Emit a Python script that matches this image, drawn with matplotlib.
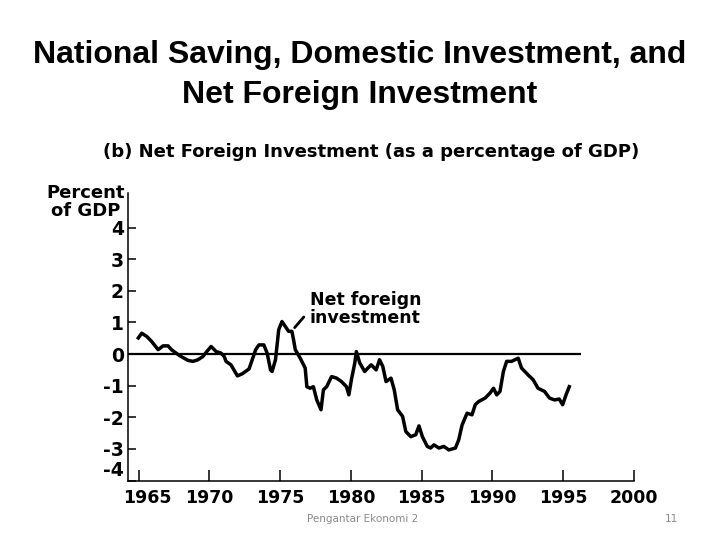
import matplotlib
matplotlib.use("Agg")
import matplotlib.pyplot as plt
import matplotlib.transforms as mtransforms

plt.rcParams['font.family'] = 'DejaVu Sans'

# net foreign investment, percent of GDP
years = [1964.97, 1965.21, 1965.56, 1965.91, 1966.37, 1966.72, 1967.07, 1967.31,
         1967.89, 1968.48, 1968.83, 1969.18, 1969.53, 1969.81, 1970.12, 1970.47,
         1970.82, 1971.05, 1971.17, 1971.52, 1971.98, 1972.33, 1972.80, 1973.27,
         1973.50, 1973.85, 1974.08, 1974.32, 1974.43, 1974.67, 1974.90, 1975.13,
         1975.37, 1975.60, 1975.83, 1975.95, 1976.07, 1976.42, 1976.77, 1976.89,
         1977.12, 1977.35, 1977.59, 1977.89, 1978.06, 1978.29, 1978.64, 1978.99,
         1979.34, 1979.69, 1979.86, 1980.04, 1980.28, 1980.39, 1980.63, 1980.98,
         1981.21, 1981.44, 1981.79, 1982.03, 1982.26, 1982.49, 1982.84, 1983.07,
         1983.31, 1983.66, 1983.89, 1984.24, 1984.59, 1984.82, 1985.06, 1985.41,
         1985.64, 1985.88, 1986.23, 1986.58, 1986.93, 1987.40, 1987.63, 1987.87,
         1988.22, 1988.57, 1988.80, 1989.04, 1989.50, 1989.85, 1990.09, 1990.32,
         1990.55, 1990.79, 1991.02, 1991.37, 1991.60, 1991.84, 1992.07, 1992.54,
         1992.89, 1993.24, 1993.70, 1994.05, 1994.41, 1994.74, 1994.98, 1995.22,
         1995.45]
nfi = [0.51, 0.66, 0.56, 0.40, 0.14, 0.26, 0.26, 0.14,
       -0.05, -0.20, -0.23, -0.18, -0.08, 0.08, 0.24, 0.08,
       0.03, -0.08, -0.23, -0.34, -0.69, -0.62, -0.47, 0.14,
       0.29, 0.29, 0.03, -0.50, -0.55, -0.18, 0.77, 1.03,
       0.87, 0.72, 0.72, 0.45, 0.14, -0.13, -0.44, -1.03,
       -1.08, -1.03, -1.45, -1.76, -1.13, -1.03, -0.71, -0.76,
       -0.87, -1.03, -1.29, -0.81, -0.28, 0.08, -0.28, -0.55,
       -0.44, -0.34, -0.50, -0.18, -0.39, -0.87, -0.76, -1.13,
       -1.76, -1.97, -2.45, -2.61, -2.55, -2.27, -2.61, -2.92,
       -2.97, -2.87, -2.97, -2.92, -3.03, -2.97, -2.71, -2.24,
       -1.87, -1.92, -1.60, -1.50, -1.39, -1.23, -1.08, -1.29,
       -1.18, -0.55, -0.23, -0.23, -0.18, -0.13, -0.44, -0.66,
       -0.81, -1.08, -1.18, -1.39, -1.45, -1.42, -1.60, -1.29,
       -1.03]

x_ticks = [1965, 1970, 1975, 1980, 1985, 1990, 1995, 2000]
y_ticks = [4, 3, 2, 1, 0, -1, -2, -3, -4]

fig = plt.figure(figsize=(7.2, 5.4), dpi=100)
ax = fig.add_axes([0.178, 0.110, 0.702, 0.533])

ax.plot(years, nfi, color='black', lw=2.5, solid_joinstyle='round')
ax.hlines(0, 1964.25, 1996.3, color='black', lw=1.6)

ax.set_xlim(1964.25, 2000)
ax.set_ylim(-4, 5.1)
ax.set_xticks(x_ticks)
ax.set_xticklabels([str(y) for y in x_ticks], fontsize=12.5, fontweight='bold')
ax.set_yticks(y_ticks)
ax.set_yticklabels([str(v) for v in y_ticks], fontsize=13.5, fontweight='bold')
ax.tick_params(axis='x', direction='in', length=8, width=1.1, pad=6)
ax.tick_params(axis='y', direction='in', length=6, width=1.1, pad=3)

# small label nudges seen in the original slide
lab = ax.get_yticklabels()[-1]
lab.set_transform(lab.get_transform() + mtransforms.ScaledTranslation(0, 12 / 100, fig.dpi_scale_trans))
lab = ax.get_xticklabels()[0]
lab.set_transform(lab.get_transform() + mtransforms.ScaledTranslation(9 / 100, 0, fig.dpi_scale_trans))

for s in ['top', 'right']:
    ax.spines[s].set_visible(False)
for s in ['left', 'bottom']:
    ax.spines[s].set_linewidth(1.1)

# label for the line
ax.annotate('', xy=(1975.9, 0.77), xytext=(1976.8, 1.24),
            arrowprops=dict(arrowstyle='-', color='black', lw=2))
ax.text(1977.1, 1.43, 'Net foreign\ninvestment', fontsize=12.5, fontweight='bold',
        ha='left', va='center', linespacing=0.95)

fig.text(0.5, 0.898, 'National Saving, Domestic Investment, and', family='Liberation Sans',
         fontsize=23, fontweight='bold', ha='center', va='center')
fig.text(0.5, 0.824, 'Net Foreign Investment', family='Liberation Sans',
         fontsize=23, fontweight='bold', ha='center', va='center')
fig.text(0.516, 0.718, '(b) Net Foreign Investment (as a percentage of GDP)',
         fontsize=13, fontweight='bold', ha='center', va='center')
fig.text(0.174, 0.626, 'Percent\nof GDP', fontsize=13, fontweight='bold',
         ha='right', va='center', multialignment='center', linespacing=0.95)

fig.text(0.504, 0.038, 'Pengantar Ekonomi 2', fontsize=7.5, color='#8a8a8a',
         ha='center', va='center')
fig.text(0.933, 0.038, '11', fontsize=7.5, color='#8a8a8a', ha='center', va='center')

fig.savefig('out.png', dpi=100)
